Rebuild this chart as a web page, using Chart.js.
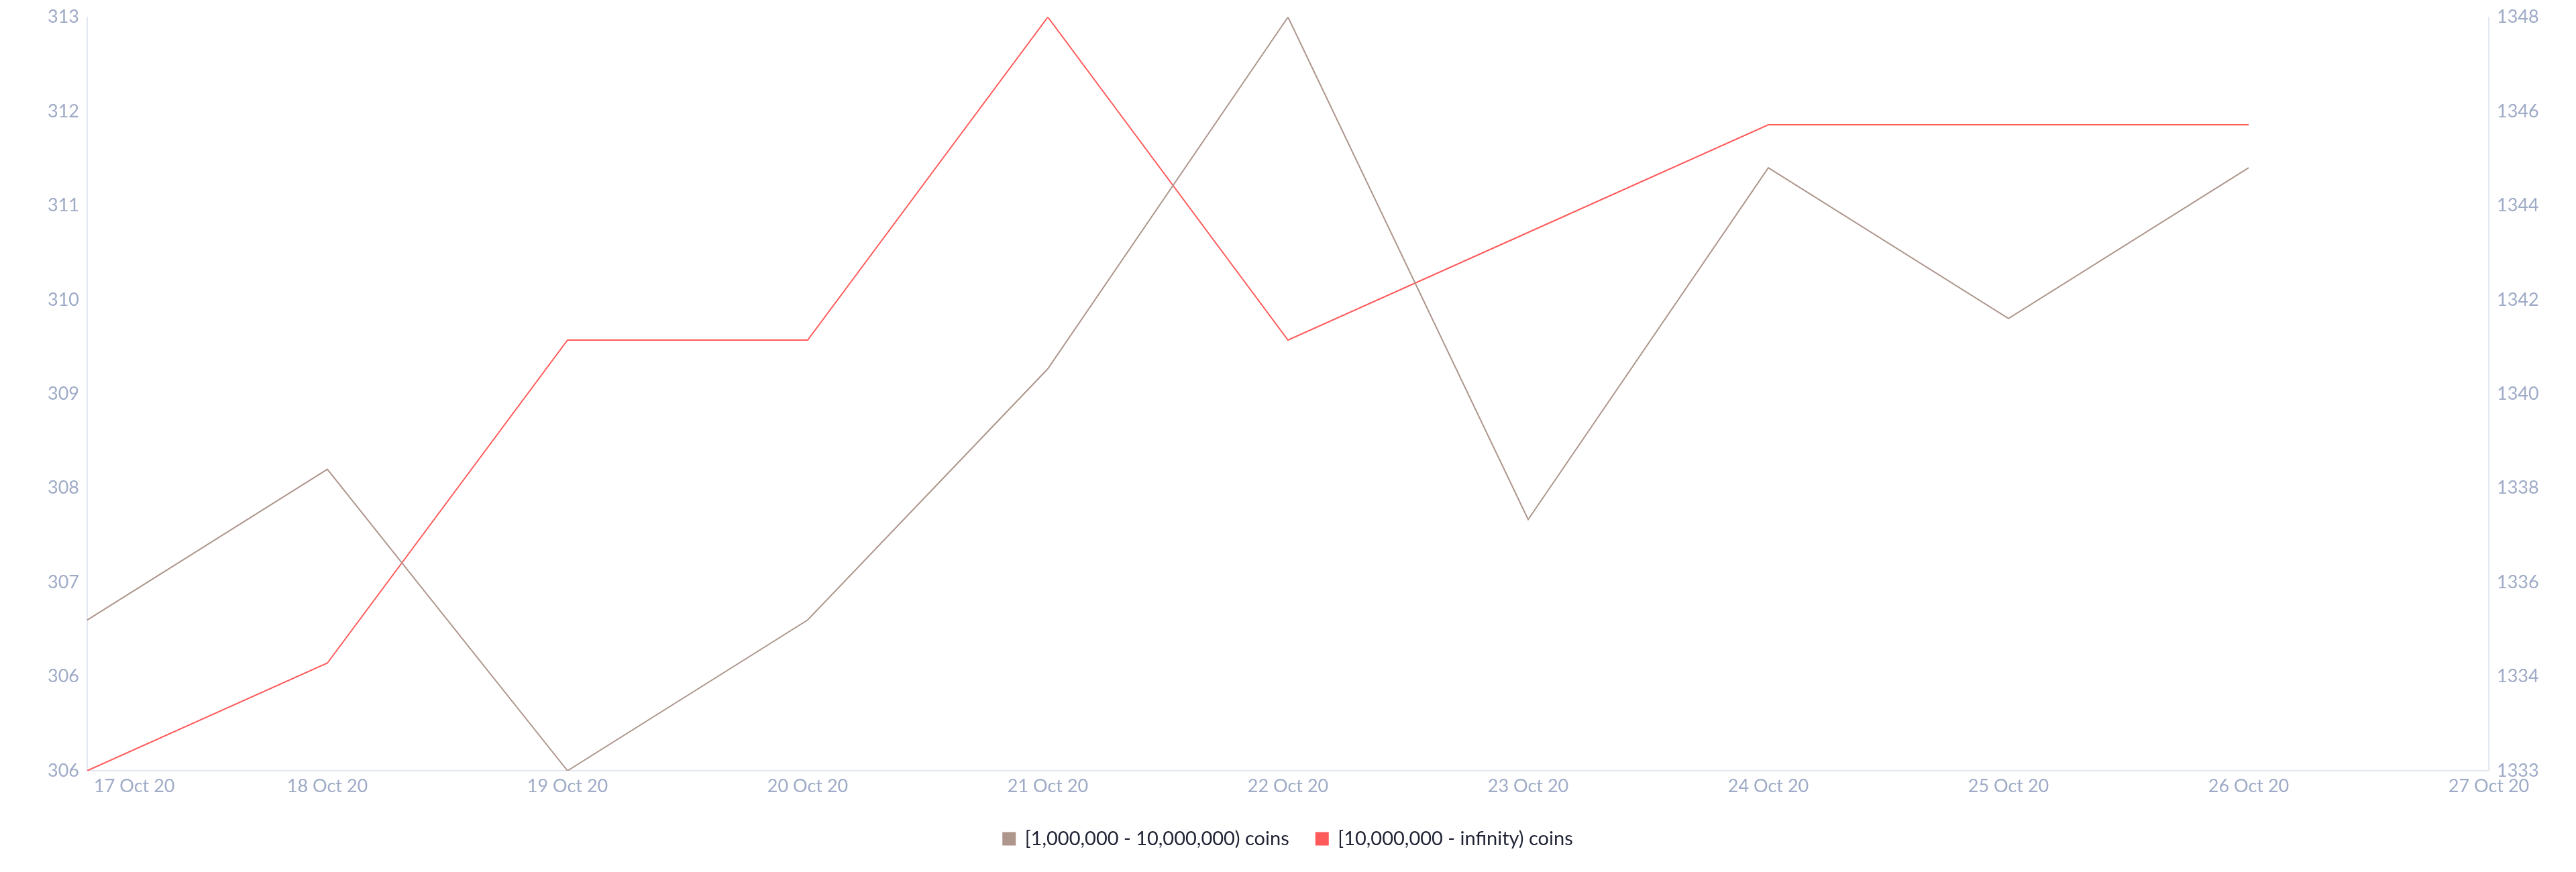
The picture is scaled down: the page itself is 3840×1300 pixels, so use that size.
<!DOCTYPE html>
<html>
<head>
<meta charset="utf-8">
<script src="https://cdn.jsdelivr.net/npm/chart.js@4"></script>
<style>
  html, body { margin: 0; padding: 0; background: #fff; }
  #wrap { width: 3840px; height: 1300px; }
</style>
</head>
<body>
<div id="wrap"><canvas id="holdersChart" width="3840" height="1300"></canvas></div>
<script>
// Dates on the x axis (last one has no data)
const dates = ['17 Oct 20', '18 Oct 20', '19 Oct 20', '20 Oct 20', '21 Oct 20',
               '22 Oct 20', '23 Oct 20', '24 Oct 20', '25 Oct 20', '26 Oct 20', '27 Oct 20'];

// Holder counts per band
const midHolders = [1336, 1339, 1333, 1336, 1341, 1348, 1338, 1345, 1342, 1345];
const whaleHolders = [306, 307, 310, 310, 313, 310, 311, 312, 312, 312];

const tickColor = '#9eaac6';
const axisColor = '#e3e7f0';

// 9 evenly spaced ticks between min and max, labels floored
const evenTicks = scale => {
    const step = (scale.max - scale.min) / 8;
    scale.ticks = Array.from({ length: 9 }, (_, i) => ({ value: scale.min + i * step }));
};

const yAxis = (position, min, max) => ({
    type: 'linear',
    position: position,
    min: min,
    max: max,
    afterBuildTicks: evenTicks,
    afterFit: scale => { scale.width = 130; },
    grid: { drawOnChartArea: false, drawTicks: false },
    border: { display: true, color: axisColor, width: 2 },
    ticks: {
        color: tickColor,
        padding: 12,
        font: { family: 'Lato', size: 27, lineHeight: 1 },
        callback: value => Math.floor(value)
    }
});

// first date label sits just right of the axis instead of centred on it
const firstLabelLeft = {
    id: 'firstLabelLeft',
    beforeDraw(chart) {
        const x = chart.scales.x;
        const items = x.getLabelItems(chart.chartArea);
        if (items.length) {
            items[0].options.textAlign = 'left';
            items[0].options.translation[0] = x.left + 10;
        }
    }
};

const ctx = document.getElementById('holdersChart').getContext('2d');
const holdersChart = new Chart(ctx, {
    type: 'line',
    data: {
        labels: dates,
        datasets: [{
            label: '[1,000,000 - 10,000,000) coins',
            data: midHolders,
            yAxisID: 'y1',
            borderColor: '#ae968d',
            backgroundColor: '#ae968d',
            borderWidth: 2,
            pointRadius: 0,
            tension: 0
        }, {
            label: '[10,000,000 - infinity) coins',
            data: whaleHolders,
            yAxisID: 'y',
            borderColor: '#ff5a5a',
            backgroundColor: '#ff5a5a',
            borderWidth: 2,
            pointRadius: 0,
            tension: 0
        }]
    },
    options: {
        responsive: false,
        animation: false,
        layout: { padding: { top: 2, bottom: 25, left: 0, right: 0 } },
        scales: {
            x: {
                grid: { drawOnChartArea: false, drawTicks: false },
                border: { display: true, color: axisColor, width: 2 },
                afterFit: scale => { scale.height = 47; },
                ticks: {
                    color: tickColor,
                    padding: 7,
                    maxRotation: 0,
                    autoSkip: false,
                    font: { family: 'Lato', size: 27 }
                }
            },
            y: yAxis('left', 306, 313),
            y1: yAxis('right', 1333, 1348)
        },
        plugins: {
            legend: {
                position: 'bottom',
                labels: {
                    boxWidth: 18,
                    boxHeight: 18,
                    padding: 40,
                    color: '#1f2333',
                    font: { family: 'Lato', size: 29 }
                }
            },
            tooltip: { enabled: false }
        }
    },
    plugins: [firstLabelLeft]
});
</script>
</body>
</html>
